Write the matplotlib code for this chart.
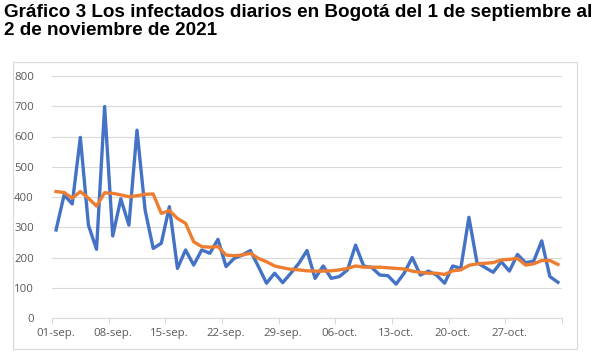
import matplotlib
matplotlib.use("Agg")
import matplotlib.pyplot as plt
from matplotlib.patches import Rectangle
import numpy as np

title = "Gráfico 3 Los infectados diarios en Bogotá del 1 de septiembre al\n2 de noviembre de 2021"

dates = ["01-sep.", "08-sep.", "15-sep.", "22-sep.", "29-sep.",
         "06-oct.", "13-oct.", "20-oct.", "27-oct."]

daily = [291, 407, 377, 597, 307, 227, 699, 271, 394, 307,
         621, 357, 230, 247, 368, 164, 225, 175, 225, 214,
         260, 170, 197, 208, 223, 170, 115, 148, 117, 148,
         181, 223, 131, 172, 131, 137, 159, 241, 172, 167,
         142, 140, 112, 148, 200, 142, 155, 142, 115, 172,
         164, 333, 183, 167, 151, 186, 155, 210, 183, 188,
         255, 137, 118]

average = [418, 415, 396, 418, 396, 370, 414, 412, 407, 401,
           404, 409, 410, 346, 355, 329, 313, 252, 236, 234,
           236, 208, 206, 208, 214, 197, 186, 172, 166, 161,
           159, 156, 155, 155, 156, 159, 164, 172, 168, 168,
           168, 166, 164, 162, 155, 151, 148, 148, 144, 156,
           159, 174, 179, 181, 183, 192, 194, 197, 175, 179,
           190, 190, 177]

yticks = [0, 100, 200, 300, 400, 500, 600, 700, 800]

W, H = 607, 358
fig = plt.figure(figsize=(W / 100, H / 100), dpi=100)
fig.patch.set_facecolor("white")

# chart border
fig.patches.append(Rectangle((13 / W, 1 - 349 / H), (577 - 13) / W, (349 - 62) / H,
                             transform=fig.transFigure, fill=False,
                             edgecolor="#d9d9d9", linewidth=0.8))

fig.text(4 / W, 1 - 4 / H, title, ha="left", va="top",
         fontsize=13.6, fontweight="bold", family="Liberation Sans",
         color="#000000", linespacing=1.1)

ax = fig.add_axes([52 / W, 1 - 318 / H, (562 - 52) / W, (318 - 76) / H])
x = np.arange(len(daily))
ax.plot(x, daily, color="#4472C4", linewidth=2.4, zorder=3)
ax.plot(x, average, color="#ED7D31", linewidth=2.4, zorder=4)

ax.set_xlim(-0.5, len(daily) - 0.5)
ax.set_ylim(0, 800)
ax.set_yticks(yticks)
ax.set_yticklabels([str(v) for v in yticks])
ax.grid(axis="y", color="#d9d9d9", linewidth=0.8)
ax.set_axisbelow(True)
for s in ["top", "right", "left"]:
    ax.spines[s].set_visible(False)
ax.spines["bottom"].set_color("#d9d9d9")
ax.spines["bottom"].set_linewidth(0.8)

label_pos = np.arange(0, len(daily), 7)
ax.set_xticks(np.arange(-0.5, len(daily), 7))
ax.set_xticks(label_pos, minor=True)
ax.set_xticklabels([], minor=False)
ax.set_xticklabels(dates, minor=True)
ax.tick_params(axis="x", which="major", length=4, color="#d9d9d9", width=0.8)
ax.tick_params(axis="x", which="minor", length=0, pad=7, labelsize=8.2,
               labelcolor="#595959")
ax.tick_params(axis="y", length=0, pad=13, labelsize=8.2, labelcolor="#595959")
for lab in ax.get_xticklabels(minor=True) + ax.get_yticklabels():
    lab.set_family("Open Sans")

fig.savefig("out.png", dpi=100)
